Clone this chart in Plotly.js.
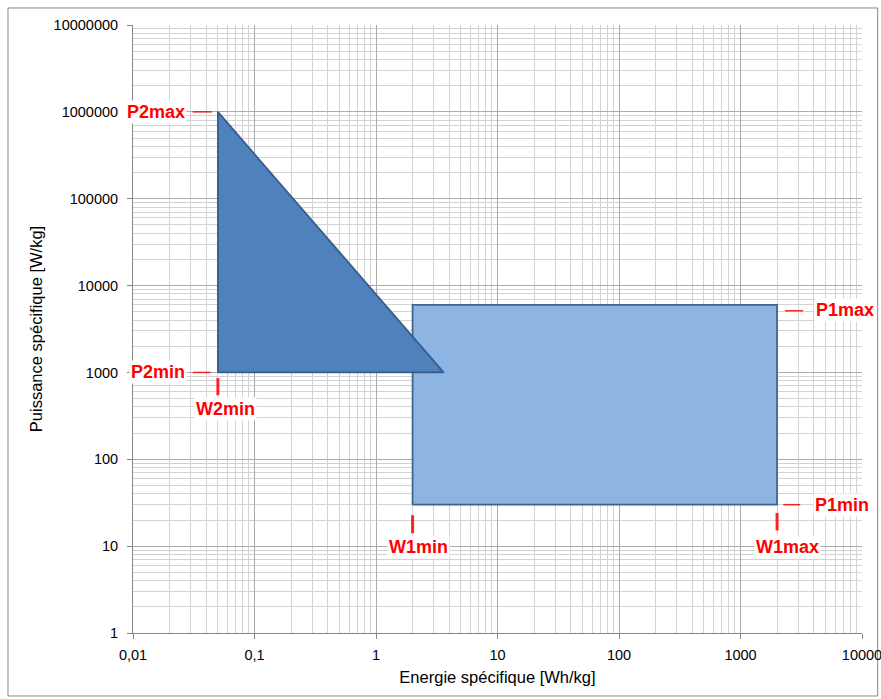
<!DOCTYPE html>
<html>
<head>
<meta charset="utf-8">
<script src="https://cdn.plot.ly/plotly-3.0.1.min.js"></script>
<style>html,body{margin:0;padding:0;background:#fff;}#chart{width:881px;height:699px;}</style>
</head>
<body>
<div id="chart"></div>
<script>
// Zone 1 (rectangle): energy [Wh/kg] and power [W/kg]
const rectEnergy = [2, 2000, 2000, 2, 2];
const rectPower = [30, 30, 6000, 6000, 30];
// Zone 2 (triangle)
const triEnergy = [0.05, 0.05, 3.6, 0.05];
const triPower = [1000, 1000000, 1000, 1000];

// small red markers (dashes / ticks) next to the labels
const markP2maxX = [0.031, 0.0445], markP2maxY = [1000000, 1000000];
const markP2minX = [0.031, 0.0435], markP2minY = [1000, 1000];
const markW2minX = [0.05, 0.05], markW2minY = [860, 548];
const markW1minX = [2, 2], markW1minY = [22.7, 14.1];
const markW1maxX = [2000, 2000], markW1maxY = [24.1, 15.2];
const markP1maxX = [2330, 3270], markP1maxY = [5130, 5130];
const markP1minX = [2250, 3100], markP1minY = [30, 30];

// labels: text and data anchor
const labelText = ["P2max", "P2min", "W2min", "W1min", "W1max", "P1max", "P1min"];
const labelX = [0.05, 0.05, 0.05, 2, 2000, 2000, 2000];
const labelY = [1000000, 1000, 1000, 30, 30, 6000, 30];

const xTickVals = [0.01, 0.1, 1, 10, 100, 1000, 10000];
const xTickText = ["0,01", "0,1", "1", "10", "100", "1000", "10000"];
const yTickVals = [1, 10, 100, 1000, 10000, 100000, 1000000, 10000000];
const yTickText = ["1", "10", "100", "1000", "10000", "100000", "1000000", "10000000"];

const red = "rgba(255,0,0,0.85)";
function mark(x, y, w) {
  return {x: x, y: y, type: "scatter", mode: "lines", line: {color: red, width: w}, hoverinfo: "skip", showlegend: false};
}

const traces = [
  {x: rectEnergy, y: rectPower, type: "scatter", mode: "lines", fill: "toself",
   fillcolor: "#8eb4e3", line: {color: "#3d6592", width: 1.8}, showlegend: false},
  {x: triEnergy, y: triPower, type: "scatter", mode: "lines", fill: "toself",
   fillcolor: "#4f81bd", line: {color: "#385d8a", width: 1.8}, showlegend: false},
  mark(markP2maxX, markP2maxY, 1.5),
  mark(markP2minX, markP2minY, 1.5),
  mark(markW2minX, markW2minY, 3),
  mark(markW1minX, markW1minY, 3),
  mark(markW1maxX, markW1maxY, 3),
  mark(markP1maxX, markP1maxY, 1.5),
  mark(markP1minX, markP1minY, 1.5)
];

const labelAnchor = ["right", "right", "center", "center", "center", "left", "left"];
const labelXShift = [-31, -31, 8, 6, 10, 37, 36];
const labelYShift = [0, 0, -37, -42, -42, -5, 0];

const annotations = labelText.map((t, i) => ({
  text: "<b>" + t + "</b>", x: Math.log10(labelX[i]), y: Math.log10(labelY[i]),
  xref: "x", yref: "y", showarrow: false, xanchor: labelAnchor[i], yanchor: "middle",
  xshift: labelXShift[i], yshift: labelYShift[i], bgcolor: "#ffffff", borderpad: 1,
  font: {family: "Liberation Sans, Arial, sans-serif", size: 18, color: "#ff0000"}
}));

const axisCommon = {
  type: "log", showline: true, linecolor: "#868686", linewidth: 1,
  gridcolor: "#ababab", gridwidth: 1, ticks: "outside", ticklen: 5, tickcolor: "#868686",
  zeroline: false, tickmode: "array", ticklabeloverflow: "allow",
  tickfont: {family: "Liberation Sans, Arial, sans-serif", size: 14.5, color: "#000"},
  minor: {showgrid: true, dtick: "D1", gridcolor: "#d3d3d3", gridwidth: 1, ticks: ""}
};

const layout = {
  width: 881, height: 699,
  margin: {l: 133, r: 19, t: 25, b: 66},
  paper_bgcolor: "#fff", plot_bgcolor: "#fff",
  showlegend: false,
  xaxis: Object.assign({}, axisCommon, {
    range: [-2, 4], tickvals: xTickVals, ticktext: xTickText, ticklabelstandoff: 4,
    title: {text: "Energie spécifique [Wh/kg]", standoff: 9,
            font: {family: "Liberation Sans, Arial, sans-serif", size: 16.5, color: "#000"}}
  }),
  yaxis: Object.assign({}, axisCommon, {
    range: [0, 7], tickvals: yTickVals, ticktext: yTickText, ticklabelstandoff: 6,
    title: {text: "Puissance spécifique [W/kg]", standoff: 6,
            font: {family: "Liberation Sans, Arial, sans-serif", size: 16.5, color: "#000"}}
  }),
  annotations: annotations,
  shapes: [
    {type: "rect", xref: "paper", yref: "paper", x0: -0.1715, x1: 1.0215, y0: -0.1036, y1: 1.028,
     line: {color: "#868686", width: 1}, fillcolor: "rgba(0,0,0,0)", layer: "below"}
  ]
};

Plotly.newPlot("chart", traces, layout, {displayModeBar: false, staticPlot: true});
</script>
</body>
</html>
